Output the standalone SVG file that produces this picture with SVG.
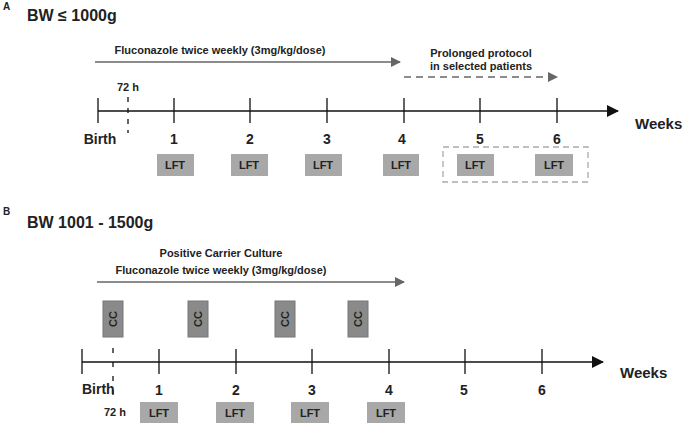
<svg xmlns="http://www.w3.org/2000/svg" width="685" height="424" viewBox="0 0 685 424">
<defs>
<style>
text{font-family:"Liberation Sans",Arial,sans-serif;font-weight:bold;fill:#222}
.ax{stroke:#111;stroke-width:1.3;fill:none}
.g{stroke:#666;stroke-width:1.3;fill:none}
.lft{fill:#a8a8a8}
.cc{fill:#8a8a8a;stroke:#777}
.n{font-size:14px;text-anchor:middle}
.s{font-size:11px;text-anchor:middle}
.w{font-size:15px}
</style>
<marker id="ah" markerWidth="12" markerHeight="12" refX="11" refY="6" orient="auto" markerUnits="userSpaceOnUse"><path d="M0,0L12,6L0,12z" fill="#111"/></marker>
<marker id="ag" markerWidth="10" markerHeight="10" refX="9" refY="5" orient="auto" markerUnits="userSpaceOnUse"><path d="M0,0L10,5L0,10z" fill="#666"/></marker>
</defs>
<text x="3" y="10" font-size="10">A</text>
<text x="27" y="21" font-size="16">BW ≤ 1000g</text>
<g id="connectors">
<line class="g" x1="95" y1="62" x2="400" y2="62" marker-end="url(#ag)"/>
<line class="g" x1="404" y1="77" x2="557" y2="77" stroke-dasharray="7,5" marker-end="url(#ag)"/>
<line class="ax" x1="98" y1="111" x2="618" y2="111" marker-end="url(#ah)"/>
<path class="ax" d="M98,98V123M174,98V123M250,98V123M327,98V123M404,98V123M480,98V123M557,98V123"/>
<line class="ax" x1="128" y1="97" x2="128" y2="133" stroke-dasharray="5,6"/>
<line class="g" x1="97" y1="282" x2="404" y2="282" marker-end="url(#ag)"/>
<line class="ax" x1="82" y1="362" x2="603" y2="362" marker-end="url(#ah)"/>
<path class="ax" d="M82,349V374M159,349V374M236,349V374M312,349V374M389,349V374M465,349V374M542,349V374"/>
<line class="ax" x1="113" y1="348" x2="113" y2="403" stroke-dasharray="5,9"/>
</g>
<text x="220" y="54" class="s" font-size="11.5">Fluconazole twice weekly (3mg/kg/dose)</text>
<text x="481" y="57" class="s" font-size="10">Prolonged protocol</text>
<text x="481" y="70" class="s" font-size="10">in selected patients</text>
<text x="128" y="91" class="s">72 h</text>
<g id="labelsA">
<text x="100" y="144" class="n">Birth</text>
<text x="174" y="144" class="n">1</text><text x="250" y="144" class="n">2</text><text x="327" y="144" class="n">3</text>
<text x="402" y="144" class="n">4</text><text x="480" y="144" class="n">5</text><text x="557" y="144" class="n">6</text>
<text x="635" y="129" class="w">Weeks</text>
</g>
<g id="lftA">
<rect class="lft" x="157" y="154" width="37" height="22"/><text x="175" y="169" class="s" font-size="12">LFT</text>
<rect class="lft" x="231" y="154" width="37" height="22"/><text x="249" y="169" class="s" font-size="12">LFT</text>
<rect class="lft" x="305" y="154" width="37" height="22"/><text x="323" y="169" class="s" font-size="12">LFT</text>
<rect class="lft" x="383" y="154" width="36" height="22"/><text x="401" y="169" class="s" font-size="12">LFT</text>
<rect class="lft" x="457" y="154" width="37" height="22"/><text x="475" y="169" class="s" font-size="12">LFT</text>
<rect class="lft" x="535" y="154" width="38" height="22"/><text x="554" y="169" class="s" font-size="12">LFT</text>
<rect x="443" y="147" width="145" height="35" fill="none" stroke="#aaa" stroke-width="1.3" stroke-dasharray="6,4"/>
</g>
<text x="3" y="215" font-size="10">B</text>
<text x="27" y="228" font-size="16">BW 1001 - 1500g</text>
<text x="221" y="257" class="s" font-size="11.5">Positive Carrier Culture</text>
<text x="221" y="274" class="s" font-size="11.5">Fluconazole twice weekly (3mg/kg/dose)</text>
<g id="ccB">
<rect class="cc" x="103" y="301" width="20" height="36"/><text transform="translate(117,319) rotate(-90)" class="s" font-size="12">CC</text>
<rect class="cc" x="188" y="301" width="20" height="36"/><text transform="translate(202,319) rotate(-90)" class="s" font-size="12">CC</text>
<rect class="cc" x="275" y="301" width="20" height="36"/><text transform="translate(289,319) rotate(-90)" class="s" font-size="12">CC</text>
<rect class="cc" x="348" y="301" width="20" height="36"/><text transform="translate(362,319) rotate(-90)" class="s" font-size="12">CC</text>
</g>
<g id="labelsB">
<text x="82" y="394" class="n" text-anchor="start" style="text-anchor:start">Birth</text>
<text x="159" y="395" class="n">1</text><text x="236" y="395" class="n">2</text><text x="312" y="395" class="n">3</text>
<text x="389" y="395" class="n">4</text><text x="464" y="395" class="n">5</text><text x="542" y="395" class="n">6</text>
<text x="620" y="378" class="w">Weeks</text>
<text x="115" y="416" class="s" font-size="10">72 h</text>
</g>
<g id="lftB">
<rect class="lft" x="140" y="402" width="38" height="21"/><text x="159" y="417" class="s" font-size="12">LFT</text>
<rect class="lft" x="216" y="402" width="38" height="21"/><text x="235" y="417" class="s" font-size="12">LFT</text>
<rect class="lft" x="291" y="402" width="38" height="21"/><text x="310" y="417" class="s" font-size="12">LFT</text>
<rect class="lft" x="367" y="402" width="38" height="21"/><text x="386" y="417" class="s" font-size="12">LFT</text>
</g>
</svg>
